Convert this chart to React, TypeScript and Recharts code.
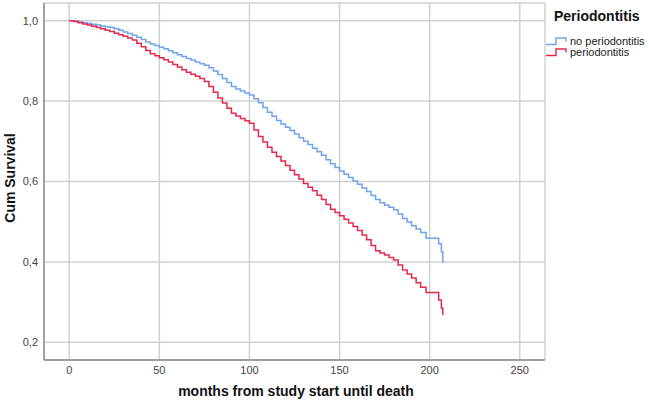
import React from 'react';
import { LineChart, Line, XAxis, YAxis, CartesianGrid } from 'recharts';

const months = [0, 2.5, 5, 7.5, 10, 12.5, 15, 17.5, 20, 22.5, 25, 27.5, 30, 32.5, 35, 37.5, 40, 42.5, 45, 47.5, 50, 52.5, 55, 57.5, 60, 62.5, 65, 67.5, 70, 72.5, 75, 77.5, 80, 82.5, 85, 87.5, 90, 92.5, 95, 97.5, 100, 102.5, 105, 107.5, 110, 112.5, 115, 117.5, 120, 122.5, 125, 127.5, 130, 132.5, 135, 137.5, 140, 142.5, 145, 147.5, 150, 152.5, 155, 157.5, 160, 162.5, 165, 167.5, 170, 172.5, 175, 177.5, 180, 182.5, 185, 187.5, 190, 192.5, 195, 198, 203, 205, 206.5, 207.3];

const noPeriodontitis = [1.0, 0.999, 0.997, 0.995, 0.993, 0.991, 0.989, 0.987, 0.985, 0.983, 0.98, 0.976, 0.972, 0.968, 0.964, 0.959, 0.953, 0.947, 0.942, 0.938, 0.934, 0.93, 0.925, 0.92, 0.915, 0.911, 0.906, 0.902, 0.897, 0.893, 0.889, 0.883, 0.875, 0.866, 0.856, 0.846, 0.836, 0.83, 0.825, 0.82, 0.815, 0.806, 0.796, 0.784, 0.772, 0.762, 0.752, 0.743, 0.735, 0.727, 0.718, 0.709, 0.7, 0.692, 0.683, 0.674, 0.665, 0.654, 0.644, 0.635, 0.626, 0.618, 0.61, 0.601, 0.593, 0.584, 0.575, 0.565, 0.555, 0.547, 0.541, 0.536, 0.53, 0.519, 0.508, 0.499, 0.49, 0.482, 0.473, 0.459, 0.459, 0.445, 0.425, 0.398];

const periodontitis = [1.0, 0.998, 0.995, 0.992, 0.989, 0.986, 0.983, 0.98, 0.976, 0.973, 0.969, 0.965, 0.961, 0.957, 0.952, 0.944, 0.935, 0.926, 0.918, 0.913, 0.908, 0.903, 0.897, 0.891, 0.885, 0.878, 0.872, 0.867, 0.862, 0.856, 0.849, 0.836, 0.822, 0.808, 0.795, 0.782, 0.77, 0.763, 0.757, 0.751, 0.745, 0.728, 0.712, 0.698, 0.685, 0.673, 0.662, 0.651, 0.64, 0.628, 0.617, 0.606, 0.595, 0.586, 0.577, 0.566, 0.555, 0.543, 0.531, 0.523, 0.515, 0.506, 0.497, 0.488, 0.478, 0.467, 0.455, 0.441, 0.428, 0.422, 0.417, 0.411, 0.405, 0.392, 0.38, 0.37, 0.36, 0.348, 0.337, 0.324, 0.324, 0.305, 0.285, 0.268];

const xTicks = [0, 50, 100, 150, 200, 250];
const yTicks = [0.2, 0.4, 0.6, 0.8, 1.0];
const seriesNames = ['no periodontitis', 'periodontitis'];
const seriesColors = ['#6FA3EB', '#E6294B'];
const legendTitle = 'Periodontitis';
const xTitle = 'months from study start until death';
const yTitle = 'Cum Survival';

const data = months.map((m, i) => ({ month: m, noPerio: noPeriodontitis[i], perio: periodontitis[i] }));

const FONT = '"Liberation Sans", Arial, sans-serif';

const StepIcon = ({ color }: { color: string }) => (
  <svg width={24} height={9} style={{ display: 'block' }}>
    <polyline points="0,7.5 10,7.5 10,1 20,1 20,4.5" fill="none" stroke={color} strokeWidth={1.4} />
  </svg>
);

export default function App() {
  return (
    <div style={{ position: 'absolute', left: 0, top: 0, width: 649, height: 404, background: '#fff', fontFamily: FONT }}>
      <LineChart width={649} height={404} data={data} margin={{ top: 3, right: 104, bottom: 0, left: 4 }}>
        <CartesianGrid stroke="#d0d0d0" strokeWidth={1.5} />
        <XAxis
          dataKey="month"
          type="number"
          domain={[-14, 264]}
          ticks={xTicks}
          allowDataOverflow
          height={44}
          tickLine={false}
          tickSize={0}
          tickMargin={6}
          stroke="#8c8c8c"
          strokeWidth={1.5}
          tick={{ fill: '#444', fontSize: 11, fontFamily: FONT }}
          label={{
            content: () => (
              <text x={296} y={391} textAnchor="middle" dominantBaseline="central" fontFamily={FONT} fontSize={14} fontWeight="bold" fill="#111">
                {xTitle}
              </text>
            ),
          }}
        />
        <YAxis
          type="number"
          domain={[0.156, 1.044]}
          ticks={yTicks}
          allowDataOverflow
          width={40}
          tickLine={false}
          tickSize={0}
          tickMargin={6}
          stroke="#8c8c8c"
          strokeWidth={1.5}
          tickFormatter={(v: number) => v.toFixed(1).replace('.', ',')}
          tick={{ fill: '#444', fontSize: 11, fontFamily: FONT }}
          label={{
            content: () => (
              <text x={10} y={178} transform="rotate(-90 10 178)" textAnchor="middle" dominantBaseline="central" fontFamily={FONT} fontSize={14} fontWeight="bold" fill="#111">
                {yTitle}
              </text>
            ),
          }}
        />
        <Line type="stepAfter" dataKey="noPerio" name={seriesNames[0]} stroke={seriesColors[0]} strokeWidth={1.5} dot={false} isAnimationActive={false} />
        <Line type="stepAfter" dataKey="perio" name={seriesNames[1]} stroke={seriesColors[1]} strokeWidth={1.5} dot={false} isAnimationActive={false} />
      </LineChart>
      <div style={{ position: 'absolute', left: 554, top: 7, fontFamily: FONT, color: '#111' }}>
        <div style={{ fontSize: 14, fontWeight: 'bold', lineHeight: '18px' }}>{legendTitle}</div>
      </div>
      <div style={{ position: 'absolute', left: 546, top: 36, fontFamily: FONT, color: '#222', fontSize: 11 }}>
        {seriesNames.map((n, i) => (
          <div key={n} style={{ display: 'flex', alignItems: 'center', height: 11 }}>
            <StepIcon color={seriesColors[i]} />
            <span style={{ marginLeft: 0, lineHeight: '11px' }}>{n}</span>
          </div>
        ))}
      </div>
    </div>
  );
}
